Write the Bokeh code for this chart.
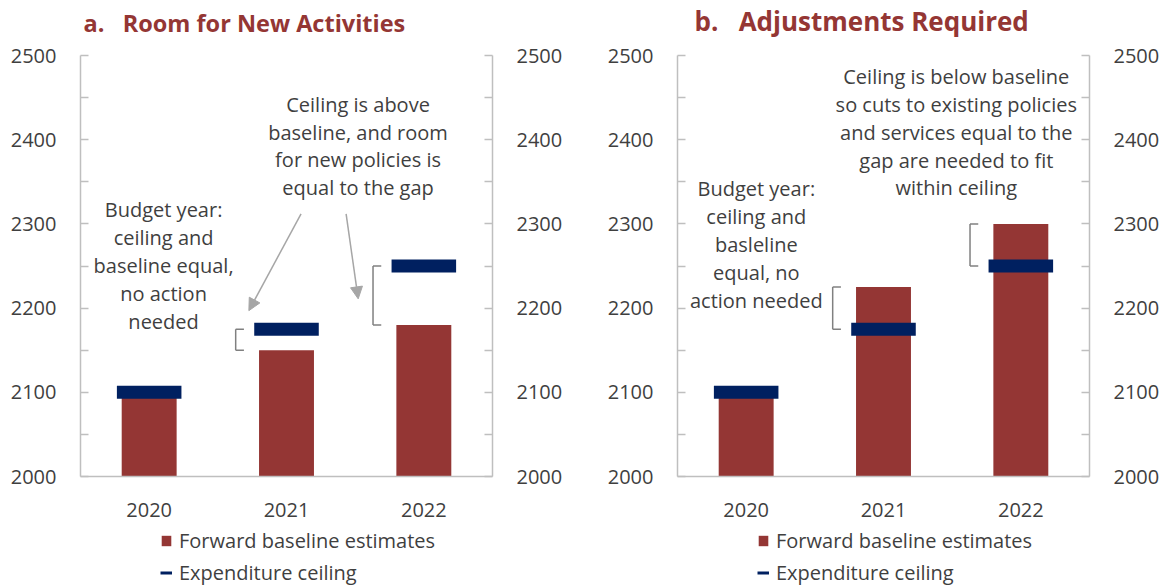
import numpy as np
from bokeh.plotting import figure
from bokeh.models import (Range1d, LinearAxis, FixedTicker, Label, Arrow, NormalHead,
                          Legend, LegendItem, Title)
from bokeh.layouts import row, column
from bokeh.embed import file_html
from bokeh.resources import INLINE

years = ["2020", "2021", "2022"]
baseline_a = [2100, 2150, 2180]
ceiling_a = [2100, 2175, 2250]
baseline_b = [2100, 2225, 2300]
ceiling_b = [2100, 2175, 2250]
y_ticks = [2000, 2100, 2200, 2300, 2400, 2500]
y_minor = [2050, 2150, 2250, 2350, 2450]
legend_labels = ["Forward baseline estimates", "Expenditure ceiling"]

BAR = "#943634"
CEIL = "#002060"
TXT = "#3f3f3f"
AXC = "#bfbfbf"
BRK = "#808080"
ARR = "#a6a6a6"
FONT = "Open Sans"
FS = "20px"
NB = "\u00a0"


def style_yaxis(ax):
    ax.ticker = FixedTicker(ticks=y_ticks, minor_ticks=y_minor)
    ax.major_tick_in = 8
    ax.major_tick_out = 0
    ax.minor_tick_in = 8
    ax.minor_tick_out = 0
    ax.axis_line_color = AXC
    ax.major_tick_line_color = AXC
    ax.minor_tick_line_color = AXC
    ax.axis_line_width = 1.5
    ax.major_tick_line_width = 1.5
    ax.minor_tick_line_width = 1.5
    ax.major_label_text_font = FONT
    ax.major_label_text_font_size = FS
    ax.major_label_text_color = TXT
    ax.major_label_standoff = 24


def make_panel(title, tsize, baseline, ceiling, bl, br, toff, notes, arrows):
    x = np.arange(len(years))
    p = figure(frame_width=412, frame_height=421, min_border_left=bl, min_border_right=br,
               min_border_top=55, min_border_bottom=50, x_range=Range1d(-0.5, 2.5),
               y_range=Range1d(2000, 2500), output_backend="svg", toolbar_location=None)
    # spacer between title and frame, then the title itself
    p.add_layout(Title(text=NB, text_font_size="10px", standoff=4), "above")
    p.add_layout(Title(text=title, align="left", offset=toff, text_font=FONT,
                       text_font_size=tsize, text_font_style="bold", text_color=BAR,
                       standoff=0), "above")
    p.outline_line_color = None
    p.xgrid.visible = False
    p.ygrid.visible = False

    style_yaxis(p.yaxis[0])
    rax = LinearAxis()
    style_yaxis(rax)
    p.add_layout(rax, "right")

    xa = p.xaxis[0]
    xa.ticker = FixedTicker(ticks=list(x))
    xa.major_label_overrides = {int(i): years[i] for i in x}
    xa.major_tick_line_color = None
    xa.minor_tick_line_color = None
    xa.axis_line_color = AXC
    xa.axis_line_width = 1.5
    xa.major_label_text_font = FONT
    xa.major_label_text_font_size = FS
    xa.major_label_text_color = TXT
    xa.major_label_standoff = 20

    p.vbar(x=x, top=baseline, bottom=2000, width=0.4, fill_color=BAR, line_color=None)
    p.rect(x=x, y=ceiling, width=0.47, height=13, height_units="screen",
           fill_color=CEIL, line_color=None)

    b = np.array(baseline, dtype=float)
    c = np.array(ceiling, dtype=float)
    m = b != c
    lo = np.minimum(b, c)[m]
    hi = np.maximum(b, c)[m]
    xs = x[m] - 0.37
    p.segment(x0=xs, y0=lo, x1=xs, y1=hi, line_color=BRK, line_width=1.5)
    p.segment(x0=xs, y0=lo, x1=xs + 0.06, y1=lo, line_color=BRK, line_width=1.5)
    p.segment(x0=xs, y0=hi, x1=xs + 0.06, y1=hi, line_color=BRK, line_width=1.5)

    for (tx, ty, txt) in notes:
        p.add_layout(Label(x=tx, y=ty, text=txt, text_align="center", text_baseline="middle",
                           text_font=FONT, text_font_size=FS, text_color=TXT,
                           text_line_height=1.035))
    for (x0, y0, x1, y1) in arrows:
        p.add_layout(Arrow(end=NormalHead(size=12, fill_color=ARR, line_color=ARR),
                           x_start=x0, y_start=y0, x_end=x1, y_end=y1,
                           line_color=ARR, line_width=1.5))
    return p


pa = make_panel(f"a.{NB}{NB} Room for New Activities", "23.5px", baseline_a, ceiling_a, 80, 98, 3,
                [(0.105, 2250.6, "Budget year:\nceiling and\nbaseline equal,\nno action\nneeded"),
                 (1.521, 2392.5, "Ceiling is above\nbaseline, and room\nfor new policies is\nequal to the gap")],
                [(1.106, 2312, 0.726, 2197), (1.434, 2312, 1.522, 2211)])
pb = make_panel(f"b.{NB}{NB} Adjustments Required", "26px", baseline_b, ceiling_b, 87, 75, 17,
                [(0.074, 2275.5, "Budget year:\nceiling and\nbasleline\nequal, no\naction needed"),
                 (1.53, 2409, "Ceiling is below baseline\nso cuts to existing policies\nand services equal to the\ngap are needed to fit\nwithin ceiling")],
                [])

# legend strip below both panels (legend keys drawn from off-screen sample glyphs)
lf = figure(width=1164, height=60, min_border=0, x_range=Range1d(0, 1), y_range=Range1d(0, 1),
            x_axis_location=None, y_axis_location=None, toolbar_location=None,
            output_backend="svg")
lf.outline_line_color = None
lf.xgrid.visible = False
lf.ygrid.visible = False
r_bar = lf.vbar(x=[5], top=[5], bottom=4, width=0.1, fill_color=BAR, line_color=None)
r_line = lf.line(x=[5, 6], y=[5, 5], line_color=CEIL, line_width=3)
for lx in (160, 757):
    leg = Legend(items=[LegendItem(label=legend_labels[0], renderers=[r_bar]),
                        LegendItem(label=legend_labels[1], renderers=[r_line])],
                 location=(lx, 0), orientation="vertical", padding=0, margin=0,
                 border_line_color=None, background_fill_alpha=0,
                 glyph_width=12, glyph_height=13, label_height=20, spacing=5,
                 label_standoff=7, label_text_font=FONT, label_text_font_size=FS,
                 label_text_color=TXT)
    lf.add_layout(leg, "center")

layout = column(row(pa, pb, spacing=0), lf, spacing=0)
open("out.html", "w").write(file_html(layout, INLINE))
